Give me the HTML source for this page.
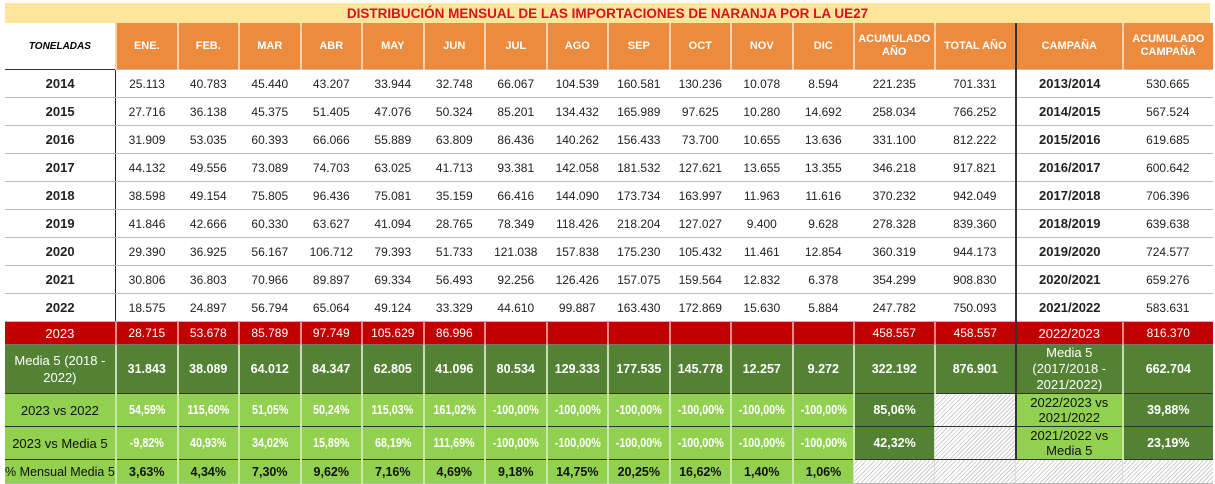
<!DOCTYPE html>
<html><head><meta charset="utf-8"><style>
body{margin:0;width:1215px;height:484px;background:#fff;overflow:hidden;font-family:"Liberation Sans",sans-serif}
.title{position:absolute;left:5px;top:3px;width:1205px;height:20px;background:#fde69c;color:#d9121b;font-weight:bold;font-size:13.5px;text-align:center;line-height:22px}
table{position:absolute;left:5px;top:23px;border-collapse:collapse;table-layout:fixed}
td{padding:0;text-align:center;font-size:12px;color:#222;border-bottom:1px solid #bbb;overflow:hidden;white-space:nowrap}
tr.h td{background:#ec8a3e;color:#fff;font-weight:bold;font-size:11px;border-left:2px solid #fbd3b0;height:46px;line-height:13px;white-space:normal}
tr.h td:first-child{background:#fff;color:#000;font-style:italic;font-size:10px;border-left:none;border-bottom:1px solid #333}
tr.d td{height:27px}
tr.d td:first-child{font-weight:bold;font-size:13px}
td.c{font-weight:bold;font-size:13px}
td:first-child{border-right:1px solid #222}
td.sep{border-left:2px solid #333!important}
tr.r td{background:#c00000;color:#fff;height:22px;border-left:2px solid #e88;border-bottom:1px solid #777}
tr.r td:first-child{border-left:none;font-size:13px}
tr.m td{background:#548235;color:#fff;font-weight:bold;font-size:12.5px;height:48px;border-left:2px solid #c6dcb4;border-bottom:1px solid #333;white-space:normal;line-height:17px}
tr.m td:first-child{font-weight:normal;font-size:13px;border-left:none}
tr.v td{background:#92d050;color:#fff;font-weight:bold;font-size:12.5px;height:32px;border-left:2px solid #c8e8a8;border-bottom:1px solid #333;white-space:normal;line-height:15px}
tr.v td span{display:inline-block;transform:scaleX(0.86);white-space:nowrap;font-size:12.5px}
tr.v td:first-child{color:#111;font-weight:normal;font-size:13px;border-left:none}
tr.v td.dg{background:#548235}
tr.v td.lg{color:#111;font-weight:normal;font-size:13px}
tr.p td{background:#92d050;color:#111;font-weight:bold;font-size:12.5px;height:23px;border-left:2px solid #c8e8a8}
tr.p td:first-child{font-weight:normal;font-size:12.5px;border-left:none}
td.hat{background:repeating-linear-gradient(135deg,#fff 0 2px,#ccc 2px 3px)!important;border-left:1px solid #ddd!important}
</style></head><body>
<div class="title">DISTRIBUCIÓN MENSUAL DE LAS IMPORTACIONES DE NARANJA POR LA UE27</div>
<table>
<colgroup><col style="width:108px"><col style="width:62px"><col style="width:61px"><col style="width:62px"><col style="width:61px"><col style="width:62px"><col style="width:61px"><col style="width:62px"><col style="width:61px"><col style="width:62px"><col style="width:61px"><col style="width:62px"><col style="width:61px"><col style="width:81px"><col style="width:81px"><col style="width:107px"><col style="width:90px"></colgroup>
<tr class="h"><td>TONELADAS</td><td>ENE.</td><td>FEB.</td><td>MAR</td><td>ABR</td><td>MAY</td><td>JUN</td><td>JUL</td><td>AGO</td><td>SEP</td><td>OCT</td><td>NOV</td><td>DIC</td><td>ACUMULADO AÑO</td><td>TOTAL AÑO</td><td class="sep">CAMPAÑA</td><td>ACUMULADO CAMPAÑA</td></tr>
<tr class="d"><td>2014</td><td>25.113</td><td>40.783</td><td>45.440</td><td>43.207</td><td>33.944</td><td>32.748</td><td>66.067</td><td>104.539</td><td>160.581</td><td>130.236</td><td>10.078</td><td>8.594</td><td>221.235</td><td>701.331</td><td class="sep c">2013/2014</td><td>530.665</td></tr>
<tr class="d"><td>2015</td><td>27.716</td><td>36.138</td><td>45.375</td><td>51.405</td><td>47.076</td><td>50.324</td><td>85.201</td><td>134.432</td><td>165.989</td><td>97.625</td><td>10.280</td><td>14.692</td><td>258.034</td><td>766.252</td><td class="sep c">2014/2015</td><td>567.524</td></tr>
<tr class="d"><td>2016</td><td>31.909</td><td>53.035</td><td>60.393</td><td>66.066</td><td>55.889</td><td>63.809</td><td>86.436</td><td>140.262</td><td>156.433</td><td>73.700</td><td>10.655</td><td>13.636</td><td>331.100</td><td>812.222</td><td class="sep c">2015/2016</td><td>619.685</td></tr>
<tr class="d"><td>2017</td><td>44.132</td><td>49.556</td><td>73.089</td><td>74.703</td><td>63.025</td><td>41.713</td><td>93.381</td><td>142.058</td><td>181.532</td><td>127.621</td><td>13.655</td><td>13.355</td><td>346.218</td><td>917.821</td><td class="sep c">2016/2017</td><td>600.642</td></tr>
<tr class="d"><td>2018</td><td>38.598</td><td>49.154</td><td>75.805</td><td>96.436</td><td>75.081</td><td>35.159</td><td>66.416</td><td>144.090</td><td>173.734</td><td>163.997</td><td>11.963</td><td>11.616</td><td>370.232</td><td>942.049</td><td class="sep c">2017/2018</td><td>706.396</td></tr>
<tr class="d"><td>2019</td><td>41.846</td><td>42.666</td><td>60.330</td><td>63.627</td><td>41.094</td><td>28.765</td><td>78.349</td><td>118.426</td><td>218.204</td><td>127.027</td><td>9.400</td><td>9.628</td><td>278.328</td><td>839.360</td><td class="sep c">2018/2019</td><td>639.638</td></tr>
<tr class="d"><td>2020</td><td>29.390</td><td>36.925</td><td>56.167</td><td>106.712</td><td>79.393</td><td>51.733</td><td>121.038</td><td>157.838</td><td>175.230</td><td>105.432</td><td>11.461</td><td>12.854</td><td>360.319</td><td>944.173</td><td class="sep c">2019/2020</td><td>724.577</td></tr>
<tr class="d"><td>2021</td><td>30.806</td><td>36.803</td><td>70.966</td><td>89.897</td><td>69.334</td><td>56.493</td><td>92.256</td><td>126.426</td><td>157.075</td><td>159.564</td><td>12.832</td><td>6.378</td><td>354.299</td><td>908.830</td><td class="sep c">2020/2021</td><td>659.276</td></tr>
<tr class="d"><td>2022</td><td>18.575</td><td>24.897</td><td>56.794</td><td>65.064</td><td>49.124</td><td>33.329</td><td>44.610</td><td>99.887</td><td>163.430</td><td>172.869</td><td>15.630</td><td>5.884</td><td>247.782</td><td>750.093</td><td class="sep c">2021/2022</td><td>583.631</td></tr>
<tr class="r"><td>2023</td><td>28.715</td><td>53.678</td><td>85.789</td><td>97.749</td><td>105.629</td><td>86.996</td><td></td><td></td><td></td><td></td><td></td><td></td><td>458.557</td><td>458.557</td><td class="sep" style="font-size:13px">2022/2023</td><td>816.370</td></tr>
<tr class="m"><td>Media 5 (2018 - 2022)</td><td>31.843</td><td>38.089</td><td>64.012</td><td>84.347</td><td>62.805</td><td>41.096</td><td>80.534</td><td>129.333</td><td>177.535</td><td>145.778</td><td>12.257</td><td>9.272</td><td>322.192</td><td>876.901</td><td class="sep" style="font-weight:normal;font-size:13px;line-height:16px">Media 5 (2017/2018 - 2021/2022)</td><td>662.704</td></tr>
<tr class="v"><td>2023 vs 2022</td><td><span>54,59%</span></td><td><span>115,60%</span></td><td><span>51,05%</span></td><td><span>50,24%</span></td><td><span>115,03%</span></td><td><span>161,02%</span></td><td><span>-100,00%</span></td><td><span>-100,00%</span></td><td><span>-100,00%</span></td><td><span>-100,00%</span></td><td><span>-100,00%</span></td><td><span>-100,00%</span></td><td class="dg">85,06%</td><td class="hat"></td><td class="sep lg">2022/2023 vs 2021/2022</td><td class="dg">39,88%</td></tr>
<tr class="v"><td>2023 vs Media 5</td><td><span>-9,82%</span></td><td><span>40,93%</span></td><td><span>34,02%</span></td><td><span>15,89%</span></td><td><span>68,19%</span></td><td><span>111,69%</span></td><td><span>-100,00%</span></td><td><span>-100,00%</span></td><td><span>-100,00%</span></td><td><span>-100,00%</span></td><td><span>-100,00%</span></td><td><span>-100,00%</span></td><td class="dg">42,32%</td><td class="hat"></td><td class="sep lg">2021/2022 vs Media 5</td><td class="dg">23,19%</td></tr>
<tr class="p"><td>% Mensual Media 5</td><td>3,63%</td><td>4,34%</td><td>7,30%</td><td>9,62%</td><td>7,16%</td><td>4,69%</td><td>9,18%</td><td>14,75%</td><td>20,25%</td><td>16,62%</td><td>1,40%</td><td>1,06%</td><td class="hat"></td><td class="hat"></td><td class="hat"></td><td class="hat"></td></tr>
</table>
</body></html>
